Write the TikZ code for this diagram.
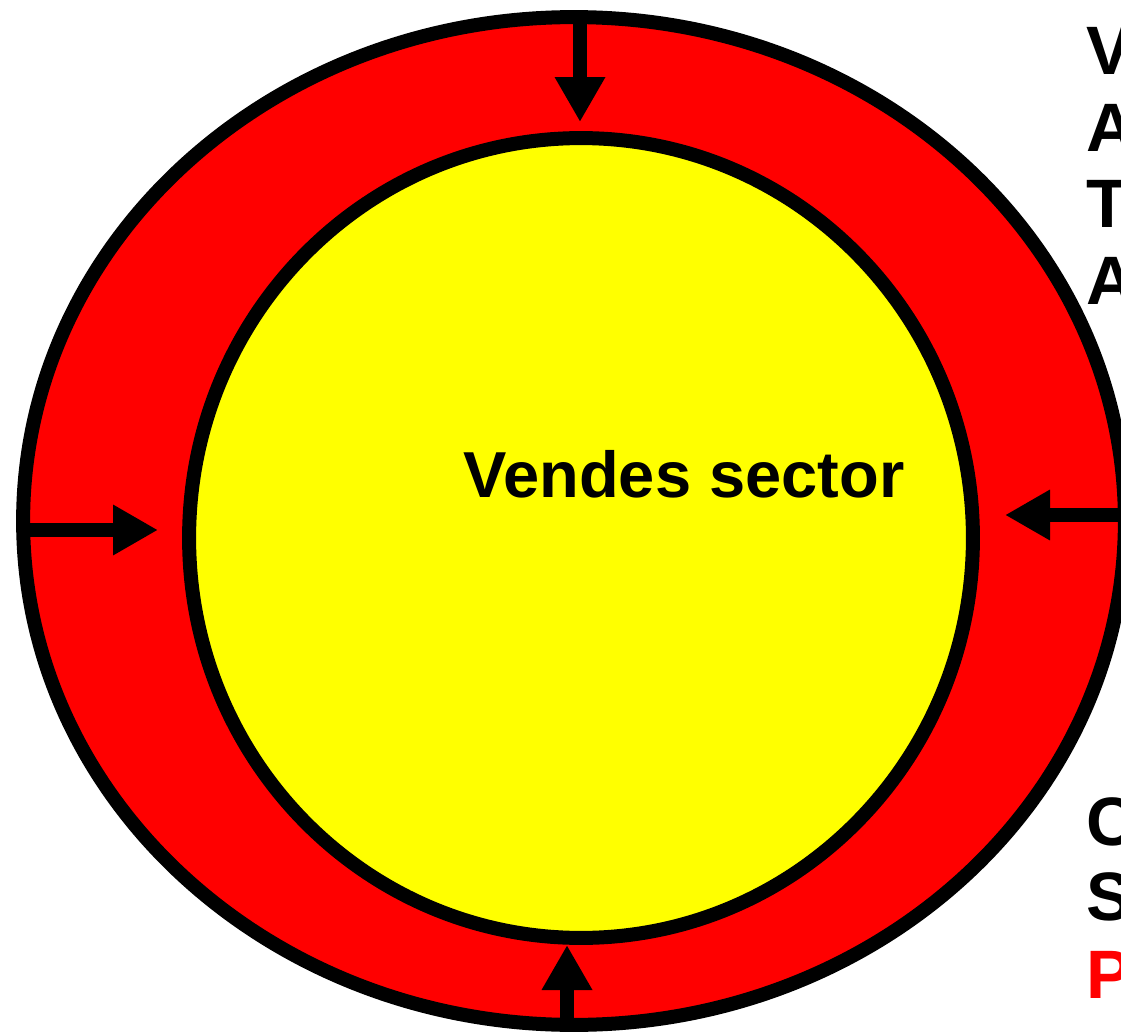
\documentclass[tikz,border=0pt]{standalone}
\usepackage{fontspec}
\setmainfont{Liberation Sans}
\usetikzlibrary{shapes.geometric,arrows.meta}
\definecolor{ringred}{RGB}{255,0,0}
\definecolor{coreyellow}{RGB}{255,255,0}
\begin{document}
\begin{tikzpicture}[x=0.02cm,y=-0.02cm,line width=0.28cm,-{Triangle[length=0.9cm,width=0.95cm]}]
		\tikzstyle{ring}=[draw,shape=ellipse,inner sep=0pt]
		\tikzstyle{word}=[anchor=base west,inner sep=0pt,font=\fontsize{39pt}{39pt}\selectfont\bfseries]

		\useasboundingbox (0,0) rectangle (1121,1033);
		\node[ring,fill=ringred,minimum width=22.04cm,minimum height=20.16cm](outer) at (574,521){};
		\node[ring,fill=coreyellow,minimum width=15.68cm,minimum height=16cm](inner) at (581,538){};
		\node[word,anchor=base,font=\fontsize{37pt}{37pt}\selectfont\bfseries](label) at (684,497){Vendes sector};

		\coordinate (t0) at (580,17);   \coordinate (t1) at (580,122);
		\coordinate (b0) at (567,1025); \coordinate (b1) at (567,945);
		\coordinate (l0) at (23,530);   \coordinate (l1) at (158,530);
		\coordinate (r0) at (1126,515); \coordinate (r1) at (1005,515);
		\draw (t0) -- (t1);
		\draw (b0) -- (b1);
		\draw (l0) -- (l1);
		\draw (r0) -- (r1);

		\node[word](w1) at (1079,75){V};
		\node[word](w2) at (1079,152){A};
		\node[word](w3) at (1079,228){T};
		\node[word](w4) at (1079,305){A};
		\node[word](w5) at (1079,845){C};
		\node[word](w6) at (1079,920){S};
		\node[word,text=ringred](w7) at (1079,998){P};
	\end{tikzpicture}
\end{document}
